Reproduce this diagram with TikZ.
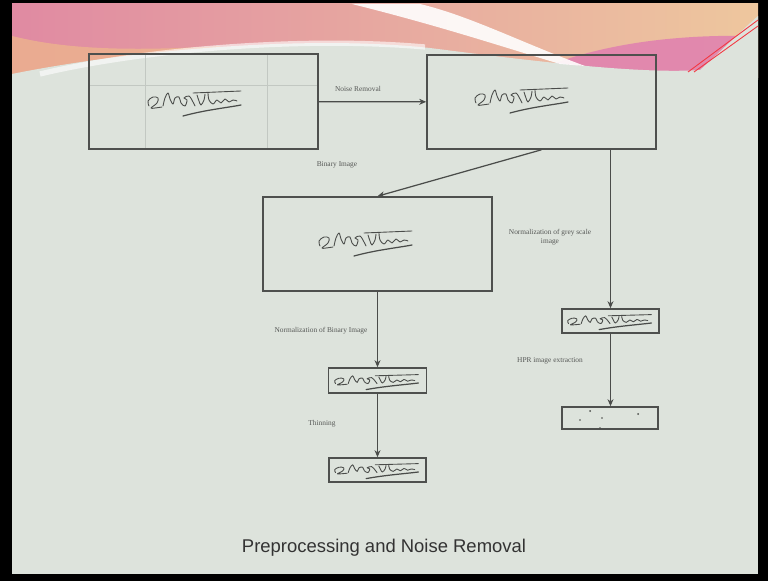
\documentclass[tikz,border=0pt]{standalone}
\usepackage{fontspec}
\setmainfont{Liberation Serif}
\newfontfamily\titlefont{Liberation Sans}
\usetikzlibrary{arrows.meta,positioning}
\definecolor{slidebg}{HTML}{DDE3DC}
\definecolor{boxline}{HTML}{4E504E}
\definecolor{labeltext}{HTML}{555755}
\definecolor{inkgray}{HTML}{4A4C4A}
\definecolor{gridgray}{HTML}{C2C8C2}
\definecolor{bannerpink}{HTML}{E08AA2}
\definecolor{bannerpeach}{HTML}{EEC79E}
\definecolor{bannerrose}{HTML}{E07FB0}
\definecolor{bannerorange}{HTML}{EFB98A}
\tikzset{
  imgbox/.style={draw=boxline,line width=.9pt,inner sep=0pt},
  flow/.style={-{Stealth[length=4pt,width=3.4pt]},line width=.7pt,draw=inkgray},
  steplabel/.style={font=\fontsize{4.2}{5}\selectfont,text=labeltext,align=center},
  signature/.pic={
    \begin{scope}[inkgray,line width=.5pt,line cap=round,line join=round]
    \draw plot[smooth,tension=.6] coordinates {(-46,6) (-47,1) (-42,-3) (-37,-2) (-38,3) (-44,8) (-40,8) (-33,7)};
    \draw plot[smooth,tension=.6] coordinates {(-32,6) (-30,-2) (-27,-7) (-25,-1) (-22,4) (-20,-2) (-16,-3) (-14,3) (-10,6) (-8,0) (-11,-2) (-6,-4) (-2,2) (0,6)};
    \draw plot[smooth,tension=.6] coordinates {(2,-5) (4,1) (6,5) (9,0) (10,-6)};
    \draw (-2,-7) -- (46,-9);
    \draw plot[smooth,tension=.6] coordinates {(13,-7) (14,0) (18,4) (22,0) (26,3) (30,-1) (34,2) (38,0) (42,1)};
    \draw[line width=.7pt] (-12,16) .. controls (10,10) and (30,8) .. (46,5);
    \end{scope}
  }
}
\begin{document}
\begin{tikzpicture}[x=0.02cm,y=-0.02cm]
\useasboundingbox (0,0) rectangle (768,581);
% slide frame and banner
\fill[black] (0,0) rectangle (768,581);
\fill[slidebg] (12,4) rectangle (758,574);
\shade[left color=bannerpink,right color=bannerpeach] (12,4) rectangle (758,78);
\fill[bannerorange,opacity=.7] (12,78) -- (12,36) .. controls (60,48) and (120,52) .. (220,46) -- (220,78) -- cycle;
\fill[bannerrose,opacity=.85] (520,78) .. controls (580,48) and (660,34) .. (752,36) -- (740,78) -- cycle;
\fill[slidebg] (12,80) -- (12,74) .. controls (120,52) and (300,34) .. (430,48) .. controls (540,62) and (640,74) .. (700,70) .. controls (720,52) and (740,32) .. (758,16) -- (758,80) -- cycle;
\fill[white,opacity=.9] (352,4) .. controls (440,26) and (500,46) .. (560,64) -- (585,66) .. controls (520,42) and (470,16) .. (420,4) -- cycle;
\draw[white,opacity=.6,line width=3pt] (40,74) .. controls (140,50) and (300,36) .. (425,47);
\draw[red!60!bannerpink,line width=.5pt] (688,72) -- (758,20);
\draw[red!60!bannerpink,line width=.5pt] (694,72) -- (758,26);

% image boxes
\node[imgbox,minimum width=4.58cm,minimum height=1.9cm] (binary) at (203.5,101.5) {};
\node[imgbox,minimum width=4.58cm,minimum height=1.88cm] (denoised) at (541.5,102) {};
\node[imgbox,minimum width=4.58cm,minimum height=1.88cm] (binorm) at (377.5,244) {};
\node[imgbox,minimum width=1.96cm,minimum height=0.5cm] (binsmall) at (377.5,380.5) {};
\node[imgbox,minimum width=1.94cm,minimum height=0.48cm] (thinned) at (377.5,470) {};
\node[imgbox,minimum width=1.94cm,minimum height=0.48cm] (greynorm) at (610.5,321) {};
\node[imgbox,minimum width=1.92cm,minimum height=0.44cm] (hpr) at (610,418) {};

% grid of the binary image
\draw[gridgray,line width=.4pt] (145,55) -- (145,148) (267,55) -- (267,148) (90,85) -- (317,85);

% handwritten samples
\pic at (195,100) {signature};
\pic at (522,97) {signature};
\pic at (366,240) {signature};
\pic[xscale=.9,yscale=.6] at (377,380) {signature};
\pic[xscale=.9,yscale=.6] at (377,469) {signature};
\pic[xscale=.9,yscale=.6] at (610,320) {signature};
\fill[inkgray] (590,411) circle (1) (580,420) circle (.8) (602,418) circle (.8) (638,414) circle (1) (600,428) circle (.8);

% labels
\node[steplabel] (noiselbl) at (358,89) {Noise Removal};
\node[steplabel] (binlbl) at (337,165) {Binary Image};
\node[steplabel] (greylbl) at (550,237) {Normalization of grey scale\\image};
\node[steplabel] (binnormlbl) at (321,331) {Normalization of Binary Image};
\node[steplabel] (thinlbl) at (322,424) {Thinning};
\node[steplabel] (hprlbl) at (550,361) {HPR image extraction};

% flow
\draw[flow] (binary) -- (denoised);
\draw[flow] (denoised.south) -- (binorm.north);
\draw[flow] (denoised.south -| greynorm.north) -- (greynorm.north);
\draw[flow] (greynorm.south) -- (greynorm.south |- hpr.north);
\draw[flow] (binorm.south) -- (binsmall.north);
\draw[flow] (binsmall.south) -- (thinned.north);

\node[font=\titlefont\fontsize{10.5}{12}\selectfont,text=black!80] (title) at (384,548) {Preprocessing and Noise Removal};
\end{tikzpicture}
\end{document}
